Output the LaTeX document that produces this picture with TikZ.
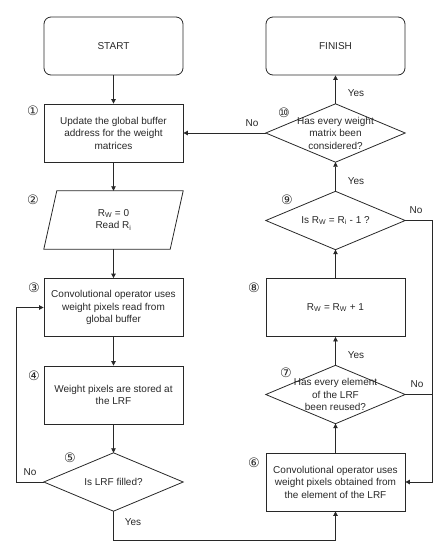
\documentclass[tikz,border=0pt]{standalone}
\usepackage{fontspec}
\setmainfont{Liberation Sans}
\newfontfamily\numfont{DejaVu Sans}
\usetikzlibrary{arrows.meta,positioning,calc}
\definecolor{ink}{RGB}{40,40,40}
\begin{document}
\begin{tikzpicture}[x=1pt,y=-1pt,
  every node/.style={text=ink},
  font=\fontsize{10}{12.5}\selectfont,
  boxnode/.style={draw=ink,line width=0.8pt,minimum width=139pt,minimum height=58pt,align=center,inner sep=0pt},
  termnode/.style={boxnode,rounded corners=7pt},
  hidnode/.style={minimum width=139pt,minimum height=58pt,inner sep=0pt},
  dtext/.style={align=center,inner sep=0pt},
  numlbl/.style={font=\numfont\fontsize{13}{13}\selectfont,inner sep=0pt},
  lbl/.style={inner sep=0pt},
  conn/.style={draw=ink,line width=0.8pt},
  arr/.style={conn,-{Triangle[length=4.5pt,width=4.5pt]}}
]
\useasboundingbox (0,0) rectangle (447,550);
% left column
\node[termnode] (start) at (113.5,46) {START};
\node[boxnode] (b1) at (113.5,133) {Update the global buffer\\address for the weight\\matrices};
\node[hidnode] (p2) at (113.5,220) {};
\node[dtext] (t2) at (p2.center) {R\textsubscript{W} = 0\\Read R\textsubscript{i}};
\draw[conn] ([xshift=13pt]p2.north west) -- (p2.north east) -- ([xshift=-13pt]p2.south east) -- (p2.south west) -- cycle;
\node[boxnode] (b3) at (113.5,307.5) {Convolutional operator uses\\weight pixels read from\\global buffer};
\node[boxnode] (b4) at (113.5,395) {Weight pixels are stored at\\the LRF};
\node[hidnode] (d5) at (113.5,482) {};
\draw[conn] (d5.north) -- (d5.east) -- (d5.south) -- (d5.west) -- cycle;
\node[dtext] (t5) at (d5.center) {Is LRF filled?};
% right column
\node[termnode] (finish) at (335.5,46) {FINISH};
\node[hidnode] (d10) at (335.5,133) {};
\draw[conn] (d10.north) -- (d10.east) -- (d10.south) -- (d10.west) -- cycle;
\node[dtext] (t10) at (d10.center) {Has every weight\\matrix been\\considered?};
\node[hidnode] (d9) at (335.5,220.5) {};
\draw[conn] (d9.north) -- (d9.east) -- (d9.south) -- (d9.west) -- cycle;
\node[dtext] (t9) at (d9.center) {Is R\textsubscript{W} = R\textsubscript{i} - 1 ?};
\node[boxnode] (b8) at (335.5,307.5) {R\textsubscript{W} = R\textsubscript{W} + 1};
\node[hidnode] (d7) at (335.5,394.5) {};
\draw[conn] (d7.north) -- (d7.east) -- (d7.south) -- (d7.west) -- cycle;
\node[dtext] (t7) at (d7.center) {Has every element\\of the LRF\\been reused?};
\node[boxnode] (b6) at (335.5,482) {Convolutional operator uses\\weight pixels obtained from\\the element of the LRF};
% numbers
\node[numlbl] (n1) at (33,111) {①};
\node[numlbl] (n2) at (33,200) {②};
\node[numlbl] (n3) at (34,288) {③};
\node[numlbl] (n4) at (34,376) {④};
\node[numlbl] (n5) at (70,458) {⑤};
\node[numlbl] (n6) at (254,463) {⑥};
\node[numlbl] (n7) at (286,373) {⑦};
\node[numlbl] (n8) at (254,288) {⑧};
\node[numlbl] (n9) at (287,200) {⑨};
\node[numlbl] (n10) at (284,113) {⑩};
% connectors
\draw[arr] (start.south) -- (b1.north);
\draw[arr] (b1.south) -- (p2.north);
\draw[arr] (p2.south) -- (b3.north);
\draw[arr] (b3.south) -- (b4.north);
\draw[arr] (b4.south) -- (d5.north);
\coordinate (c5) at (16,482);
\draw[arr] (d5.west) -- (c5) |- (b3.west);
\coordinate (c5b) at (113.5,540);
\draw[arr] (d5.south) -- (c5b) -| (b6.south);
\draw[arr] (b6.north) -- (d7.south);
\draw[arr] (d7.north) -- (b8.south);
\draw[arr] (b8.north) -- (d9.south);
\draw[arr] (d9.north) -- (d10.south);
\draw[arr] (d10.north) -- (finish.south);
\draw[arr] (d10.west) -- (b1.east);
\coordinate (c9) at (432,220.5);
\draw[arr] (d9.east) -- (c9) |- (b6.east);
\coordinate (c7) at (432,394.5);
\draw[conn] (d7.east) -- (c7);
% labels
\node[lbl] (l5n) at (30,472) {No};
\node[lbl] (l5y) at (133,522) {Yes};
\node[lbl] (l10y) at (356,93) {Yes};
\node[lbl] (l10n) at (252,123) {No};
\node[lbl] (l9y) at (356,181) {Yes};
\node[lbl] (l9n) at (416,210) {No};
\node[lbl] (l7y) at (356,355) {Yes};
\node[lbl] (l7n) at (417,384) {No};
\end{tikzpicture}
\end{document}
